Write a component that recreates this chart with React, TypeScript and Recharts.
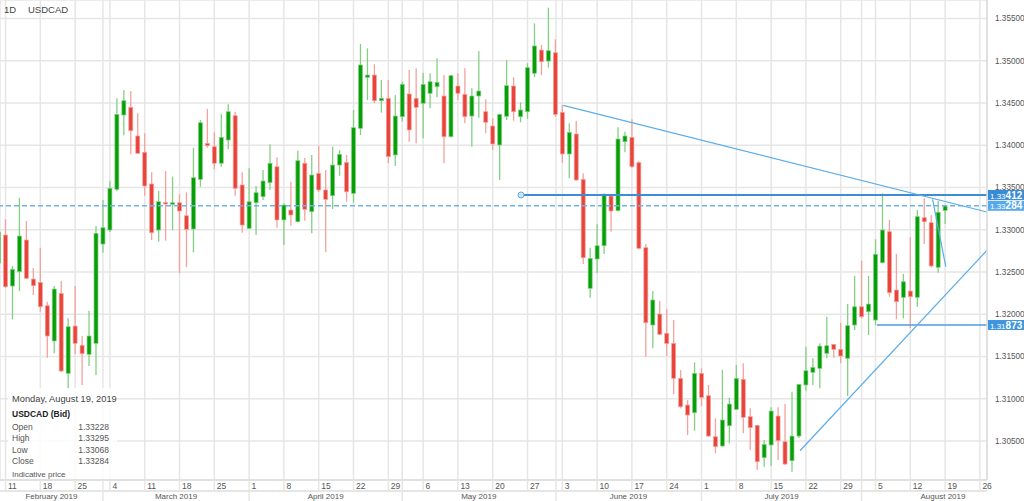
import React from 'react';
import { ComposedChart, Bar, XAxis, YAxis, CartesianGrid, ReferenceLine, ReferenceDot } from 'recharts';

// trading-day index of first candle (Fri Feb 8 2019); Mon Feb 11 2019 = 0
const firstIndex = -1;

const opens = [
  1.32607, 1.32938, 1.32334, 1.32504, 1.32879, 1.32417, 1.32378, 1.32101, 1.31684, 1.32248,
  1.31301, 1.31861, 1.31633, 1.31526, 1.31656, 1.32831, 1.32997, 1.33479, 1.34358, 1.34449,
  1.34110, 1.33917, 1.33542, 1.32997, 1.33323, 1.33301, 1.33320, 1.33166, 1.33009, 1.33597,
  1.34023, 1.33983, 1.33787, 1.34062, 1.34350, 1.33530, 1.33017, 1.33320, 1.33391, 1.33557,
  1.33746, 1.33116, 1.33234, 1.33095, 1.33787, 1.33214, 1.33668, 1.33471, 1.33403, 1.33766,
  1.33798, 1.33431, 1.34201, 1.34804, 1.34831, 1.34527, 1.34556, 1.33885, 1.34338, 1.34607,
  1.34556, 1.34497, 1.34615, 1.34693, 1.34583, 1.34101, 1.34701, 1.34603, 1.34346, 1.34583,
  1.34397, 1.34228, 1.34003, 1.34343, 1.34701, 1.34338, 1.34397, 1.34852, 1.35127, 1.34997,
  1.35095, 1.34390, 1.33897, 1.34133, 1.33597, 1.32307, 1.32654, 1.32811, 1.33400, 1.33226,
  1.34042, 1.34094, 1.33794, 1.32788, 1.31873, 1.32003, 1.31775, 1.31656, 1.31242, 1.30926,
  1.30835, 1.31301, 1.31036, 1.30551, 1.30441, 1.30681, 1.30875, 1.31230, 1.30788, 1.30686,
  1.30303, 1.30453, 1.30796, 1.30492, 1.30267, 1.30559, 1.31163, 1.31313, 1.31360, 1.31538,
  1.31644, 1.31585, 1.31479, 1.31873, 1.32089, 1.32030, 1.31932, 1.32610, 1.32977, 1.32287,
  1.32201, 1.32275, 1.32201, 1.33143, 1.33084, 1.32556, 1.33228,
];
const highs = [
  1.33175, 1.33124, 1.32571, 1.33379, 1.33104, 1.32547, 1.32788, 1.32149, 1.32334, 1.32394,
  1.31952, 1.32334, 1.31743, 1.32042, 1.33044, 1.33352, 1.33577, 1.34556, 1.34654, 1.34642,
  1.34378, 1.34142, 1.33680, 1.33459, 1.33695, 1.33628, 1.33420, 1.33443, 1.33971, 1.34299,
  1.34429, 1.34153, 1.34370, 1.34485, 1.34397, 1.33680, 1.33727, 1.33518, 1.33707, 1.34011,
  1.33858, 1.33313, 1.33569, 1.33936, 1.33849, 1.33885, 1.33995, 1.33707, 1.33983, 1.33944,
  1.33885, 1.34417, 1.35198, 1.35147, 1.34958, 1.34772, 1.34772, 1.34595, 1.34752, 1.34891,
  1.34911, 1.34859, 1.34852, 1.35029, 1.34831, 1.34831, 1.34852, 1.34911, 1.34674, 1.35116,
  1.34544, 1.34319, 1.34366, 1.35009, 1.34804, 1.34508, 1.34970, 1.35443, 1.35187, 1.35628,
  1.35254, 1.34476, 1.34260, 1.34287, 1.33668, 1.32788, 1.33065, 1.33431, 1.33420, 1.34213,
  1.34160, 1.34307, 1.33814, 1.32831, 1.32275, 1.32157, 1.32062, 1.31932, 1.31340, 1.30985,
  1.31431, 1.31360, 1.31163, 1.30769, 1.31340, 1.31012, 1.31400, 1.31420, 1.30887, 1.30690,
  1.30512, 1.30899, 1.30899, 1.30938, 1.31084, 1.31175, 1.31616, 1.31479, 1.31656, 1.31971,
  1.31648, 1.31900, 1.32121, 1.32453, 1.32634, 1.32453, 1.32887, 1.33431, 1.33116, 1.32713,
  1.32476, 1.32911, 1.33234, 1.33372, 1.33175, 1.33344, 1.33295,
];
const lows = [
  1.32547, 1.32311, 1.31940, 1.32275, 1.32417, 1.32228, 1.32030, 1.31486, 1.31538, 1.31313,
  1.31116, 1.31526, 1.31163, 1.31388, 1.31281, 1.32729, 1.32973, 1.33459, 1.34118, 1.33893,
  1.33897, 1.33403, 1.32879, 1.32859, 1.32871, 1.32997, 1.32485, 1.32556, 1.32733, 1.33510,
  1.33971, 1.33716, 1.33746, 1.33952, 1.33403, 1.32965, 1.33005, 1.32938, 1.33352, 1.33471,
  1.33024, 1.32820, 1.33048, 1.33088, 1.33107, 1.32958, 1.33447, 1.32733, 1.33246, 1.33640,
  1.33332, 1.33320, 1.34121, 1.34536, 1.34497, 1.34385, 1.33787, 1.33755, 1.34279, 1.34042,
  1.34023, 1.34082, 1.34437, 1.34568, 1.33787, 1.34094, 1.34536, 1.34260, 1.33983, 1.34326,
  1.34142, 1.33944, 1.33589, 1.34299, 1.34291, 1.34272, 1.34314, 1.34804, 1.34831, 1.34918,
  1.34338, 1.33794, 1.33609, 1.33581, 1.32595, 1.32196, 1.32485, 1.32713, 1.32977, 1.33216,
  1.33917, 1.33727, 1.32769, 1.31498, 1.31597, 1.31755, 1.31506, 1.31053, 1.30887, 1.30571,
  1.30622, 1.30914, 1.30551, 1.30355, 1.30433, 1.30473, 1.30867, 1.30591, 1.30394, 1.30157,
  1.30196, 1.30204, 1.30275, 1.30216, 1.30137, 1.30536, 1.31095, 1.31163, 1.31124, 1.31479,
  1.31486, 1.31420, 1.31033, 1.31814, 1.31952, 1.31755, 1.31873, 1.32603, 1.32208, 1.31940,
  1.31952, 1.31834, 1.32089, 1.32832, 1.32553, 1.32492, 1.33068,
];
const closes = [
  1.32973, 1.32326, 1.32532, 1.32926, 1.32426, 1.32338, 1.32089, 1.31743, 1.32299, 1.31329,
  1.31853, 1.31656, 1.31533, 1.31743, 1.32958, 1.33024, 1.33491, 1.34366, 1.34527, 1.34172,
  1.33905, 1.33518, 1.32965, 1.33332, 1.33305, 1.33320, 1.33222, 1.33005, 1.33616, 1.34267,
  1.33995, 1.33787, 1.34094, 1.34397, 1.33491, 1.33056, 1.33332, 1.33439, 1.33577, 1.33787,
  1.33116, 1.33293, 1.33175, 1.33817, 1.33242, 1.33648, 1.33471, 1.33360, 1.33766, 1.33893,
  1.33450, 1.34208, 1.34950, 1.34831, 1.34527, 1.34556, 1.33865, 1.34346, 1.34721, 1.34181,
  1.34449, 1.34721, 1.34752, 1.34745, 1.34101, 1.34823, 1.34615, 1.34338, 1.34583, 1.34642,
  1.34272, 1.34015, 1.34366, 1.34705, 1.34397, 1.34417, 1.34918, 1.35175, 1.34989, 1.35119,
  1.34366, 1.33897, 1.34153, 1.33589, 1.32669, 1.32662, 1.32811, 1.33411, 1.33222, 1.34074,
  1.34110, 1.33746, 1.32781, 1.31900, 1.32169, 1.31763, 1.31654, 1.31242, 1.30906, 1.30808,
  1.31301, 1.31017, 1.30559, 1.30433, 1.30749, 1.30938, 1.31242, 1.30781, 1.30658, 1.30255,
  1.30461, 1.30855, 1.30504, 1.30228, 1.30559, 1.31171, 1.31332, 1.31372, 1.31624, 1.31628,
  1.31585, 1.31506, 1.31865, 1.32089, 1.31971, 1.32121, 1.32710, 1.32997, 1.32255, 1.32149,
  1.32385, 1.32208, 1.33155, 1.33095, 1.32571, 1.33207, 1.33284,
];

// x axis: Mondays (trading-day index) and their day-of-month labels
const weekTickIdx = [0, 5, 10, 15, 20, 25, 30, 35, 40, 45, 50, 55, 60, 65, 70, 75, 80, 85, 90, 95, 100, 105, 110, 115, 120, 125, 130, 135, 140];
const weekTickLabels = ['11', '18', '25', '4', '11', '18', '25', '1', '8', '15', '22', '29', '6', '13', '20', '27', '3', '10', '17', '24', '1', '8', '15', '22', '29', '5', '12', '19', '26'];
const monthBoundaryIdx = [14, 35, 57, 79.1, 100, 123];
const monthLabelIdx = [6.6, 24.5, 46, 68, 89.5, 111.5, 134.7];
const monthLabels = ['February 2019', 'March 2019', 'April 2019', 'May 2019', 'June 2019', 'July 2019', 'August 2019'];

const xDomain = [-0.79, 141.02];
const yDomain = [1.30039, 1.35719];
const yTicks = [1.305, 1.31, 1.315, 1.32, 1.325, 1.33, 1.335, 1.34, 1.345, 1.35, 1.355];

// drawings
const resistanceLevel = 1.33412;
const resistanceStartIdx = 74.07;
const currentPrice = 1.33284;
const supportLevel = 1.31873;
const supportStartIdx = 125.2;
const downTrend = [{ x: 80.14, y: 1.34473 }, { x: 141, y: 1.3321 }];
const upTrend = [{ x: 114.15, y: 1.30385 }, { x: 141, y: 1.32755 }];
const shortLine = [{ x: 133.2, y: 1.3336 }, { x: 135.1, y: 1.32563 }];

// legend values
const legendDate = 'Monday, August 19, 2019';
const legendRows = [
  ['Open', '1.33228'],
  ['High', '1.33295'],
  ['Low', '1.33068'],
  ['Close', '1.33284'],
];

const data = opens.map((o, k) => ({ i: k + firstIndex, open: o, high: highs[k], low: lows[k], close: closes[k] }));
const gridXTicks = Array.from(new Set([...weekTickIdx, ...monthBoundaryIdx])).sort((a, b) => a - b);
const monthTicks = [...monthBoundaryIdx, ...monthLabelIdx].sort((a, b) => a - b);

const FONT = '"Liberation Sans", Arial, Helvetica, sans-serif';
const GRID = '#e6e6e6';

const Candle = (props: any) => {
  const { x, y, width, height, payload } = props;
  if (!payload || x == null || y == null) return null;
  const { open, close, high, low } = payload;
  const top = Math.min(y, y + height);
  const h = Math.abs(height);
  const span = high - low || 1e-9;
  const py = (v: number) => top + ((high - v) / span) * h;
  const up = close >= open;
  const bodyTop = py(Math.max(open, close));
  const bodyBot = py(Math.min(open, close));
  const cx = x + width / 2;
  const body = up ? '#079f07' : '#e8443a';
  const wick = up ? '#84cf84' : '#f3a29d';
  return (
    <g>
      <line x1={cx} x2={cx} y1={top} y2={top + h} stroke={wick} strokeWidth={1.3} />
      <rect x={cx - 2} y={bodyTop} width={4} height={Math.max(bodyBot - bodyTop, 1.5)} fill={body} stroke={wick} strokeWidth={0.7} />
    </g>
  );
};

const DayTick = (props: any) => {
  const { x, y, payload } = props;
  const k = weekTickIdx.indexOf(payload.value);
  return (
    <g>
      <line x1={x} x2={x} y1={y} y2={y + 11} stroke={GRID} strokeWidth={1.5} />
      {k >= 0 && (
        <text x={x + 2.5} y={y + 8.5} fontSize={8.5} fill="#555" fontFamily={FONT}>
          {weekTickLabels[k]}
        </text>
      )}
    </g>
  );
};

const MonthTick = (props: any) => {
  const { x, y, payload } = props;
  const k = monthLabelIdx.indexOf(payload.value);
  if (k >= 0) {
    return (
      <text x={x} y={y + 7.8} fontSize={8} fill="#555" textAnchor="middle" fontFamily={FONT}>
        {monthLabels[k]}
      </text>
    );
  }
  return <line x1={x} x2={x} y1={y} y2={y + 10} stroke={GRID} strokeWidth={1.5} />;
};

const PriceTag = (props: any) => {
  const { viewBox, head, tail, bg } = props;
  if (!viewBox) return null;
  const x = viewBox.x + viewBox.width;
  const y = viewBox.y;
  return (
    <g>
      <rect x={x + 1} y={y - 5} width={40} height={10} fill={bg} />
      <text x={x + 3} y={y + 3.6} fill="#fff" fontFamily={FONT}>
        <tspan fontSize={8}>{head}</tspan>
        <tspan fontSize={10} fontWeight="bold">{tail}</tspan>
      </text>
    </g>
  );
};

export default function App() {
  return (
    <div style={{ position: 'absolute', left: 0, top: 0, width: 1024, height: 501, background: '#fff' }}>
      <ComposedChart width={1024} height={501} data={data} margin={{ top: 0, right: 0, bottom: 0, left: 0 }}>
        <CartesianGrid stroke={GRID} strokeWidth={1.5} />
        <XAxis
          dataKey="i"
          type="number"
          domain={xDomain}
          allowDataOverflow
          ticks={gridXTicks}
          interval={0}
          tick={<DayTick />}
          tickLine={false}
          tickSize={0}
          tickMargin={0}
          height={11}
          axisLine={{ stroke: '#dddddd', strokeWidth: 1.5 }}
        />
        <XAxis
          xAxisId="m"
          dataKey="i"
          type="number"
          domain={xDomain}
          allowDataOverflow
          ticks={monthTicks}
          interval={0}
          tick={<MonthTick />}
          tickLine={false}
          tickSize={0}
          tickMargin={0}
          height={10}
          axisLine={{ stroke: '#dddddd', strokeWidth: 1.5 }}
        />
        <YAxis
          orientation="right"
          domain={yDomain}
          allowDataOverflow
          ticks={yTicks}
          interval={0}
          width={37}
          tickFormatter={(v: number) => v.toFixed(5)}
          tick={{ fontSize: 8.2, fill: '#555', fontFamily: FONT }}
          tickLine={false}
          tickMargin={2}
          axisLine={{ stroke: '#dddddd', strokeWidth: 1.5 }}
        />
        <Bar
          dataKey={(d: any) => [d.low, d.high]}
          barSize={5}
          shape={<Candle />}
          isAnimationActive={false}
        />
        <ReferenceLine
          y={currentPrice}
          stroke="#6cb4ec"
          strokeWidth={1.4}
          strokeDasharray="5 3"
          label={<PriceTag head="1.33" tail="284" bg="#57a9ec" />}
        />
        <ReferenceLine
          segment={[{ x: resistanceStartIdx, y: resistanceLevel }, { x: xDomain[1], y: resistanceLevel }]}
          stroke="#3d8dd6"
          strokeWidth={2}
          ifOverflow="visible"
        />
        <ReferenceLine
          y={resistanceLevel}
          stroke="none"
          label={<PriceTag head="1.33" tail="412" bg="#3a8bd6" />}
        />
        <ReferenceDot x={resistanceStartIdx} y={resistanceLevel} r={3} fill="#cfe4f6" stroke="#5ea9e8" strokeWidth={1} ifOverflow="visible" />
        <ReferenceLine
          segment={[{ x: supportStartIdx, y: supportLevel }, { x: xDomain[1], y: supportLevel }]}
          stroke="#4d9de0"
          strokeWidth={1.5}
          ifOverflow="visible"
        />
        <ReferenceLine
          y={supportLevel}
          stroke="none"
          label={<PriceTag head="1.31" tail="873" bg="#3f95de" />}
        />
        <ReferenceLine segment={downTrend} stroke="#5cadea" strokeWidth={1.2} ifOverflow="visible" />
        <ReferenceLine segment={upTrend} stroke="#5cadea" strokeWidth={1.2} ifOverflow="visible" />
        <ReferenceLine segment={shortLine} stroke="#5cadea" strokeWidth={1.2} ifOverflow="visible" />
      </ComposedChart>
      <svg width={1024} height={501} style={{ position: 'absolute', left: 0, top: 0, pointerEvents: 'none' }}>
        <text x={4} y={12.5} fontSize={9.5} fill="#444" fontFamily={FONT}>1D</text>
        <text x={28} y={12.5} fontSize={9.5} fill="#444" fontFamily={FONT}>USDCAD</text>
        <rect x={8} y={388} width={109} height={91} fill="#ffffff" fillOpacity={0.82} />
        <text x={12} y={401.5} fontSize={9.3} fill="#444" fontFamily={FONT}>{legendDate}</text>
        <text x={12} y={417} fontSize={8.5} fontWeight="bold" fill="#222" fontFamily={FONT}>USDCAD (Bid)</text>
        {legendRows.map((r, k) => (
          <g key={r[0]}>
            <text x={12} y={430 + k * 11.3} fontSize={8.5} fill="#555" fontFamily={FONT}>{r[0]}</text>
            <text x={109} y={430 + k * 11.3} fontSize={8.5} fill="#555" textAnchor="end" fontFamily={FONT}>{r[1]}</text>
          </g>
        ))}
        <text x={12} y={477} fontSize={8} fill="#555" fontFamily={FONT}>Indicative price</text>
      </svg>
    </div>
  );
}
